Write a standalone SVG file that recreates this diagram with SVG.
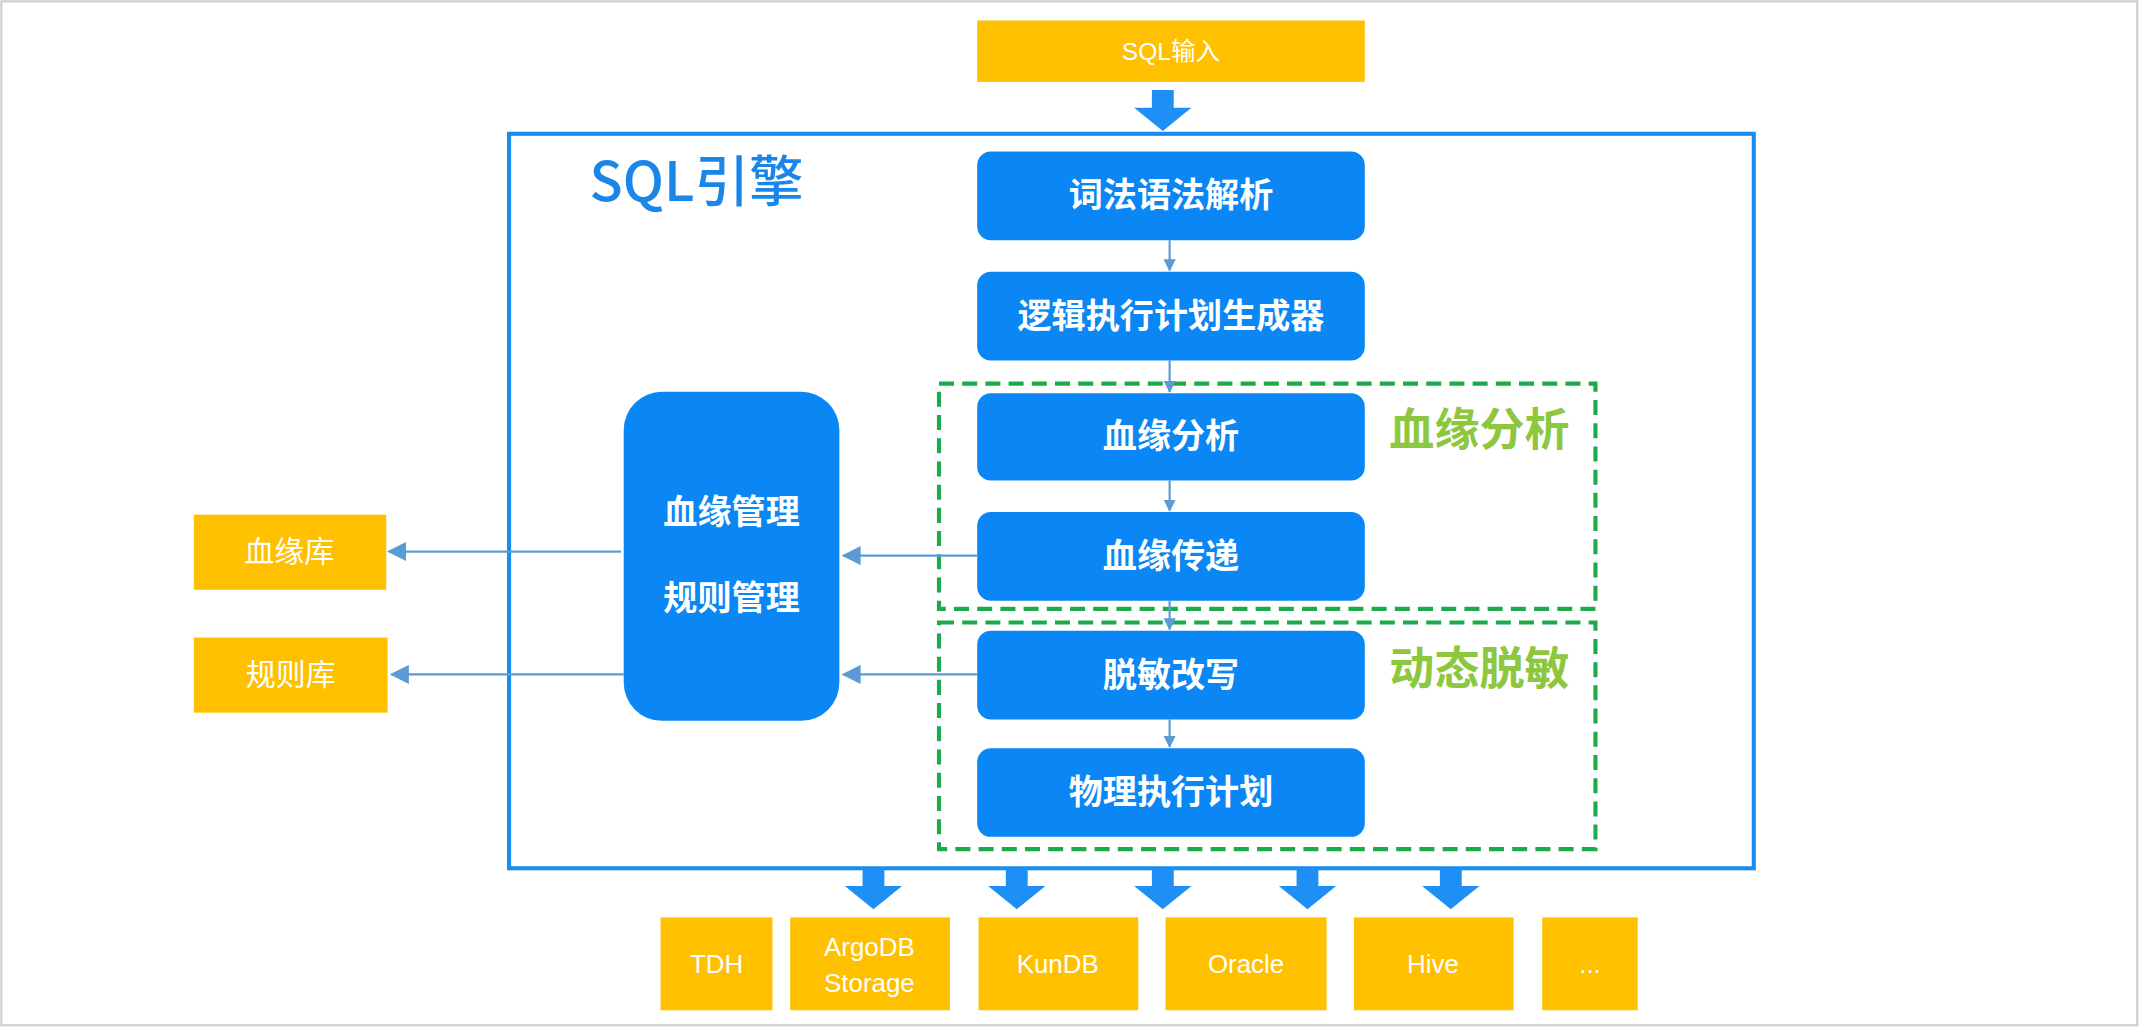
<svg xmlns="http://www.w3.org/2000/svg" width="2140" height="1028" viewBox="0 0 2140 1028">
<defs>
<style>
.y{fill:#FFC000}
.b{fill:#0A86F5}
.tw{fill:#fff;font-family:"Liberation Sans","Noto Sans CJK SC",sans-serif;text-anchor:middle}
.bt{font-size:25px;font-weight:bold}
.g{fill:none;stroke:#1DAA4B;stroke-width:3;stroke-dasharray:11 6}
.gl{fill:#8DC63F;font-family:"Noto Sans CJK SC",sans-serif;font-size:33px;font-weight:bold}
.c{stroke:#5B9BD5;stroke-width:1.6;fill:none}
.fat{fill:#1E90F5}
</style>
<marker id="a" viewBox="0 0 10 10" refX="9" refY="5" markerWidth="9" markerHeight="9" markerUnits="userSpaceOnUse" orient="auto"><path d="M0,0 L10,5 L0,10z" fill="#5B9BD5"/></marker>
<marker id="a2" viewBox="0 0 10 10" refX="9" refY="5" markerWidth="14" markerHeight="14" markerUnits="userSpaceOnUse" orient="auto"><path d="M0,0 L10,5 L0,10z" fill="#5B9BD5"/></marker>
<path id="fa" d="M-8,0 H8 V13 H21 L0,30 L-21,13 H-8 Z"/>
</defs>
<g transform="scale(1.36480 1.36521)">
<rect x="1" y="1" width="1565" height="750" fill="#fff" stroke="#ccc" stroke-width="1.5"/>
<g id="sqlin"><rect class="y" x="716" y="15" width="284" height="45"/><text class="tw" x="858" y="44" font-size="18">SQL输入</text></g>
<g id="engine"><rect x="373" y="98" width="912" height="538" fill="none" stroke="#1A8CF0" stroke-width="3"/>
<text x="432" y="147" font-family="Noto Sans CJK SC,sans-serif" font-weight="500" font-size="40" fill="#1A87E8">SQL引擎</text></g>
<g id="ga"><rect class="g" x="688" y="281" width="481" height="165"/><text class="gl" x="1018" y="327">血缘分析</text></g>
<g id="gb"><rect class="g" x="688" y="456" width="481" height="166"/><text class="gl" x="1018" y="502">动态脱敏</text></g>
<g id="n1"><rect class="b" x="716" y="111" width="284" height="65" rx="10"/><text class="tw bt" x="858" y="152">词法语法解析</text></g>
<g id="n2"><rect class="b" x="716" y="199" width="284" height="65" rx="10"/><text class="tw bt" x="858" y="240">逻辑执行计划生成器</text></g>
<g id="n3"><rect class="b" x="716" y="288" width="284" height="64" rx="10"/><text class="tw bt" x="858" y="328">血缘分析</text></g>
<g id="n4"><rect class="b" x="716" y="375" width="284" height="65" rx="10"/><text class="tw bt" x="858" y="416">血缘传递</text></g>
<g id="n5"><rect class="b" x="716" y="462" width="284" height="65" rx="10"/><text class="tw bt" x="858" y="503">脱敏改写</text></g>
<g id="n6"><rect class="b" x="716" y="548" width="284" height="65" rx="10"/><text class="tw bt" x="858" y="589">物理执行计划</text></g>
<g id="mgmt"><rect class="b" x="457" y="287" width="158" height="241" rx="28"/><text class="tw bt" x="536" y="384">血缘管理</text><text class="tw bt" x="536" y="447">规则管理</text></g>
<g id="db1"><rect class="y" x="142" y="377" width="141" height="55"/><text class="tw" x="212" y="412" font-size="22">血缘库</text></g>
<g id="db2"><rect class="y" x="142" y="467" width="142" height="55"/><text class="tw" x="213" y="502" font-size="22">规则库</text></g>
<g id="t1"><rect class="y" x="484" y="672" width="82" height="68"/><text class="tw" x="525" y="713" font-size="19">TDH</text></g>
<g id="t2"><rect class="y" x="579" y="672" width="117" height="68"/><text class="tw" x="637" y="700" font-size="19">ArgoDB</text><text class="tw" x="637" y="727" font-size="19">Storage</text></g>
<g id="t3"><rect class="y" x="717" y="672" width="117" height="68"/><text class="tw" x="775" y="713" font-size="19">KunDB</text></g>
<g id="t4"><rect class="y" x="854" y="672" width="118" height="68"/><text class="tw" x="913" y="713" font-size="19">Oracle</text></g>
<g id="t5"><rect class="y" x="992" y="672" width="117" height="68"/><text class="tw" x="1050" y="713" font-size="19">Hive</text></g>
<g id="t6"><rect class="y" x="1130" y="672" width="70" height="68"/><text class="tw" x="1165" y="713" font-size="19">...</text></g>
<g id="connectors">
<use href="#fa" class="fat" x="852" y="66"/>
<use href="#fa" class="fat" x="640" y="636"/>
<use href="#fa" class="fat" x="745" y="636"/>
<use href="#fa" class="fat" x="852" y="636"/>
<use href="#fa" class="fat" x="958" y="636"/>
<use href="#fa" class="fat" x="1063" y="636"/>
<path class="c" d="M857,176 V198" marker-end="url(#a)"/>
<path class="c" d="M857,264 V287" marker-end="url(#a)"/>
<path class="c" d="M857,352 V374" marker-end="url(#a)"/>
<path class="c" d="M857,440 V461" marker-end="url(#a)"/>
<path class="c" d="M857,527 V547" marker-end="url(#a)"/>
<path class="c" d="M716,407 H618" marker-end="url(#a2)"/>
<path class="c" d="M716,494 H618" marker-end="url(#a2)"/>
<path class="c" d="M455,404 H285" marker-end="url(#a2)"/>
<path class="c" d="M457,494 H287" marker-end="url(#a2)"/>
</g>
</g>
</svg>
